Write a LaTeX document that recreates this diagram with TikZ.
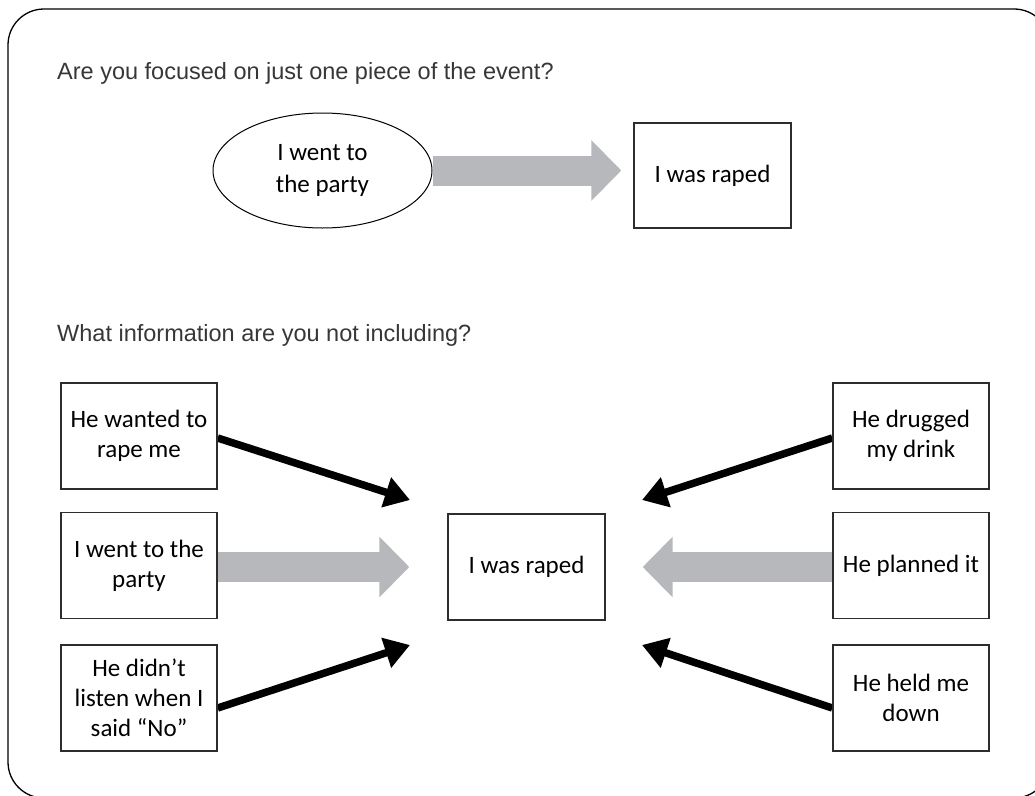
\documentclass[tikz,border=0pt]{standalone}
\usepackage{fontspec}
\setmainfont{Liberation Sans}
\newfontfamily\handfont{Carlito}
\usetikzlibrary{arrows.meta,shapes.geometric,backgrounds}
\definecolor{arrowgray}{RGB}{183,184,187}
\definecolor{txtgray}{RGB}{55,55,55}
\definecolor{boxline}{RGB}{45,45,45}
\begin{document}
\begin{tikzpicture}[x=1pt,y=-1pt,
  handtext/.style={font=\handfont\fontsize{25}{30}\selectfont, text=black},
  hbox/.style={handtext, draw=boxline, line width=1.4pt, fill=white,
    minimum width=156pt, minimum height=106pt, inner sep=0pt, align=center},
  hellipse/.style={handtext, ellipse, draw=black, line width=1pt, fill=white,
    minimum width=219pt, minimum height=115pt, inner sep=0pt, align=center},
  question/.style={anchor=base west, inner sep=0pt, text=txtgray,
    font=\fontsize{23.5}{27}\selectfont},
  fatarrow/.style={draw=arrowgray, line width=30pt,
    -{Triangle[length=30pt,width=59pt]}},
  blackarrow/.style={draw=black, line width=7.5pt,
    -{Triangle[length=25pt,width=30pt]}},
  frame/.style={draw=black, line width=1.3pt, rounded corners=36pt}
]
\useasboundingbox (0,0) rectangle (1035,795);
\begin{scope}
  \clip (0,0) rectangle (1035,795);
  \draw[frame] (8,9) rectangle (1050,798);
\end{scope}

% questions
\node[question] (q1) at (57,79) {Are you focused on just one piece of the event?};
\node[question] (q2) at (57,341) {What information are you not including?};

% top part
\node[hellipse, font=\handfont\fontsize{25}{32}\selectfont] (ell) at (322.5,170.5) {I went to\\the party};
\node[hbox, minimum width=157pt, minimum height=105pt] (top) at (712.5,175.5) {I was raped};

% bottom part
\node[hbox, minimum width=157pt] (C) at (526.5,567) {I was raped};
\node[hbox] (L1) at (139,436) {He wanted to\\rape me};
\node[hbox] (L2) at (139,565.5) {I went to the\\party};
\node[hbox] (L3) at (139,698) {He didn’t\\listen when I\\said “No”};
\node[hbox] (R1) at (911,436) {He drugged\\my drink};
\node[hbox] (R2) at (911,565.5) {He planned it};
\node[hbox] (R3) at (911,698) {He held me\\down};

\coordinate (tL1) at (410,500);
\coordinate (tL3) at (410,645);
\coordinate (tR1) at (642,500);
\coordinate (tR3) at (642,645);

\begin{scope}[on background layer]
  \draw[fatarrow, shorten >=12pt] (ell.east) -- (ell.east -| top.west);
  \draw[fatarrow, shorten >=38pt] (L2.east |- C.west) -- (C.west);
  \draw[fatarrow, shorten >=37pt] (R2.west |- C.east) -- (C.east);
  \draw[blackarrow] ([yshift=-2pt]L1.east) -- (tL1);
  \draw[blackarrow] ([yshift=-10pt]L3.east) -- (tL3);
  \draw[blackarrow] ([yshift=-2pt]R1.west) -- (tR1);
  \draw[blackarrow] ([yshift=-10pt]R3.west) -- (tR3);
\end{scope}
\end{tikzpicture}
\end{document}
